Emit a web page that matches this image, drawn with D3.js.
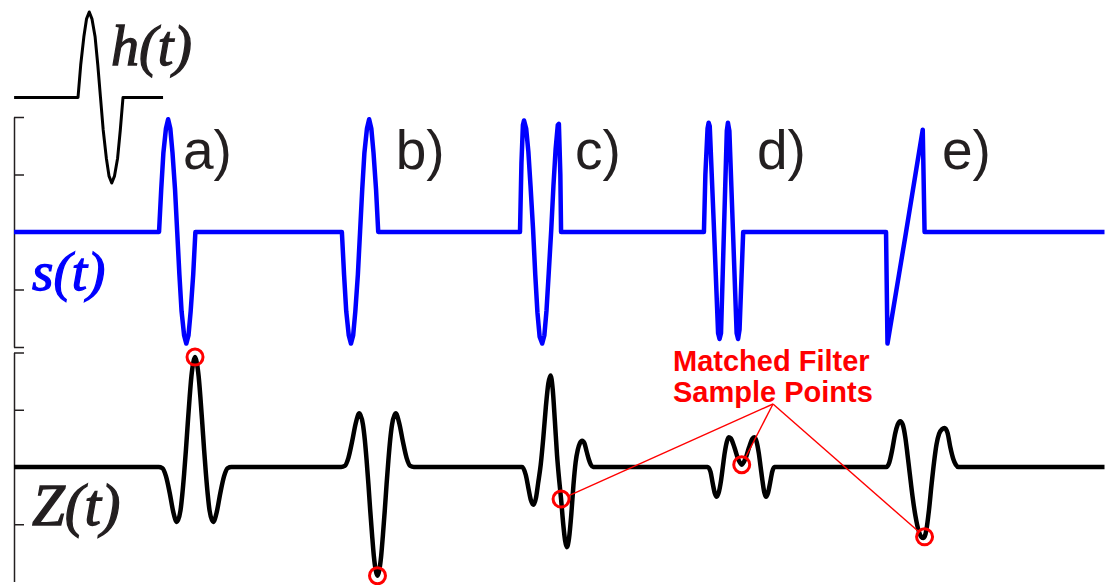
<!DOCTYPE html>
<html>
<head>
<meta charset="utf-8">
<script src="https://cdn.jsdelivr.net/npm/d3@7"></script>
<style>
  html, body { margin: 0; padding: 0; background: #fff; }
  svg { display: block; }
</style>
</head>
<body>
<svg id="chart" width="1105" height="585"></svg>
<script>
// ---------------------------------------------------------------
// Data: [time, normalised amplitude]
// ---------------------------------------------------------------

// matched-filter impulse response h(t), in units of one pulse length
const hPulse = [
  [-1.42, 0], [0, 0], [0.06, 0.38], [0.13, 0.71], [0.19, 0.92], [0.25, 1], [0.31, 0.92],
  [0.38, 0.71], [0.44, 0.38], [0.5, 0], [0.56, -0.38], [0.63, -0.71], [0.69, -0.92],
  [0.75, -1], [0.81, -0.92], [0.88, -0.71], [0.94, -0.38], [1, 0], [1.89, 0]
];

// received signal s(t): five pulse shapes a) .. e)
const sPulseA = [
  [3.99, 0], [4.05, 0.37], [4.11, 0.69], [4.18, 0.9], [4.24, 0.98], [4.3, 0.9], [4.36, 0.69],
  [4.43, 0.37], [4.49, 0], [4.55, -0.37], [4.61, -0.69], [4.68, -0.9], [4.74, -0.97],
  [4.8, -0.9], [4.86, -0.69], [4.93, -0.37], [4.99, 0]
];
const sPulseB = [
  [9.02, 0], [9.08, -0.37], [9.14, -0.69], [9.21, -0.9], [9.27, -0.97], [9.33, -0.9],
  [9.39, -0.69], [9.46, -0.37], [9.52, 0], [9.58, 0.37], [9.64, 0.69], [9.71, 0.9],
  [9.77, 0.98], [9.83, 0.9], [9.89, 0.69], [9.96, 0.37], [10.02, 0]
];
const sPulseC = [
  [13.92, 0], [13.96, 0.6], [14.0, 0.93], [14.03, 0.97], [14.09, 0.9], [14.15, 0.7],
  [14.21, 0.4], [14.28, 0.02], [14.34, -0.37], [14.4, -0.7], [14.46, -0.91], [14.53, -0.97],
  [14.59, -0.9], [14.65, -0.68], [14.71, -0.36], [14.78, 0.02], [14.84, 0.4], [14.9, 0.72],
  [14.96, 0.93], [14.99, 0.94], [15.03, 0.5], [15.05, 0]
];
const sPulseD = [
  [18.98, 0], [19.02, 0.5], [19.08, 0.9], [19.11, 0.95], [19.14, 0.92], [19.26, 0.0],
  [19.37, -0.88], [19.41, -0.93], [19.45, -0.88], [19.53, 0.0], [19.61, 0.88], [19.64, 0.95],
  [19.68, 0.88], [19.78, 0.0], [19.88, -0.88], [19.92, -0.93], [19.96, -0.85], [20.06, 0]
];
const sPulseE = [
  [23.99, 0], [24.03, -0.97], [24.52, -0.04], [25.0, 0.89], [25.05, 0]
];

// matched-filter output Z(t) for each pulse
const zPulseA = [
  [3.98, 0], [4.08, -0.01], [4.18, -0.08], [4.28, -0.22], [4.38, -0.39], [4.48, -0.48],
  [4.58, -0.38], [4.63, -0.24], [4.68, -0.06], [4.73, 0.15], [4.78, 0.38], [4.83, 0.6],
  [4.88, 0.79], [4.93, 0.91], [4.98, 0.96], [5.03, 0.91], [5.08, 0.79], [5.13, 0.6],
  [5.18, 0.38], [5.23, 0.15], [5.28, -0.06], [5.33, -0.24], [5.38, -0.38], [5.48, -0.48],
  [5.58, -0.39], [5.68, -0.22], [5.78, -0.08], [5.88, -0.01], [5.98, 0]
];
const zPulseB = [
  [9.0, 0], [9.1, 0.01], [9.2, 0.08], [9.3, 0.22], [9.4, 0.38], [9.5, 0.47], [9.6, 0.37],
  [9.65, 0.24], [9.7, 0.06], [9.75, -0.15], [9.8, -0.38], [9.85, -0.59], [9.9, -0.78],
  [9.95, -0.9], [10.0, -0.95], [10.05, -0.9], [10.1, -0.78], [10.15, -0.59], [10.2, -0.38],
  [10.25, -0.15], [10.3, 0.06], [10.35, 0.24], [10.4, 0.37], [10.5, 0.47], [10.6, 0.38],
  [10.7, 0.22], [10.8, 0.08], [10.9, 0.01], [11.0, 0]
];
const zPulseC = [
  [13.98, 0], [14.08, -0.07], [14.16, -0.2], [14.22, -0.29], [14.29, -0.33], [14.36, -0.27],
  [14.42, -0.14], [14.49, 0.02], [14.56, 0.25], [14.63, 0.52], [14.7, 0.73], [14.76, 0.8],
  [14.82, 0.68], [14.88, 0.4], [14.94, 0.1], [15.0, -0.12], [15.05, -0.28], [15.11, -0.5],
  [15.16, -0.64], [15.21, -0.7], [15.27, -0.62], [15.33, -0.42], [15.39, -0.16], [15.45, 0.04],
  [15.51, 0.15], [15.57, 0.21], [15.63, 0.23], [15.69, 0.21], [15.75, 0.14], [15.81, 0.07],
  [15.87, 0.02], [15.93, 0]
];
const zPulseD = [
  [19.08, 0], [19.16, -0.04], [19.22, -0.14], [19.28, -0.23], [19.33, -0.26], [19.39, -0.22],
  [19.45, -0.12], [19.5, 0.0], [19.55, 0.12], [19.61, 0.22], [19.66, 0.26], [19.72, 0.25],
  [19.82, 0.17], [19.92, 0.07], [20.02, 0.02], [20.12, 0.07], [20.22, 0.17], [20.32, 0.25],
  [20.37, 0.26], [20.43, 0.22], [20.49, 0.12], [20.54, 0.0], [20.59, -0.12], [20.64, -0.22],
  [20.69, -0.26], [20.74, -0.23], [20.8, -0.14], [20.86, -0.04], [20.92, 0]
];
const zPulseE = [
  [24.0, 0], [24.08, 0.04], [24.16, 0.15], [24.24, 0.29], [24.31, 0.37], [24.38, 0.4],
  [24.45, 0.37], [24.52, 0.26], [24.58, 0.11], [24.64, -0.05], [24.72, -0.26], [24.8, -0.43],
  [24.88, -0.55], [24.96, -0.61], [25.02, -0.62], [25.05, -0.61], [25.1, -0.55], [25.17, -0.38],
  [25.24, -0.16], [25.31, 0.04], [25.38, 0.2], [25.45, 0.29], [25.53, 0.33], [25.6, 0.34],
  [25.68, 0.3], [25.76, 0.17], [25.84, 0.07], [25.91, 0.02], [25.98, 0]
];

// instants at which the filter output is sampled, and the value there
const sampleT = [4.98, 10.0, 15.05, 20.02, 25.05];
const sampleZ = [0.96, -0.95, -0.28, 0.02, -0.61];
// samples that the callout points to
const calloutIdx = [2, 3, 4];

const pulseLabels = ["a)", "b)", "c)", "d)", "e)"];
const tStart = 0, tEnd = 30;
const ampTicksS = [-1, -0.5, 0, 0.5, 1];
const ampTicksZ = [-0.5, 0, 0.5, 1];

// ---------------------------------------------------------------
// Layout
// ---------------------------------------------------------------
const svg = d3.select("#chart");
const axisX = 14;
const labelAt = [4.65, 10.5, 15.43, 20.44, 25.53];   // label anchor, in time units
const labelBaseline = 169;

const x = d3.scaleLinear().domain([tStart, tEnd]).range([axisX, 1104.5]);
const yS = d3.scaleLinear().domain([-1, 1]).range([347, 117]);
const yZ = d3.scaleLinear().domain([-1, 1]).range([581.5, 352.5]);
const hx = d3.scaleLinear().domain([0, 1]).range([78, 123]);
const hy = d3.scaleLinear().domain([-1, 1]).range([183, 12]);

const withBaseline = (...pulses) =>
  [[tStart, 0]].concat(...pulses, [[tEnd, 0]]);

const sSeries = withBaseline(sPulseA, sPulseB, sPulseC, sPulseD, sPulseE);
const zSeries = withBaseline(zPulseA, zPulseB, zPulseC, zPulseD, zPulseE);

// ---------------------------------------------------------------
// Axes (left edge, ticks pointing inward, no numbers)
// ---------------------------------------------------------------
const axisColor = "#231f20";
svg.append("g")
  .attr("transform", `translate(${axisX},0)`)
  .call(d3.axisRight(yS).tickValues(ampTicksS).tickSize(10).tickSizeOuter(0).tickFormat(""))
  .call(g => g.selectAll("path,line").attr("stroke", axisColor).attr("stroke-width", 1.5));

svg.append("g")
  .attr("transform", `translate(${axisX},0)`)
  .call(d3.axisRight(yZ).tickValues(ampTicksZ).tickSize(10).tickSizeOuter(0).tickFormat(""))
  .call(g => g.selectAll("path,line").attr("stroke", axisColor).attr("stroke-width", 1.5));

// ---------------------------------------------------------------
// Traces
// ---------------------------------------------------------------
const sLine = d3.line().x(d => x(d[0])).y(d => yS(d[1])).curve(d3.curveLinear);
const zLine = d3.line().x(d => x(d[0])).y(d => yZ(d[1])).curve(d3.curveMonotoneX);
const hLine = d3.line().x(d => hx(d[0])).y(d => hy(d[1])).curve(d3.curveLinear);

svg.append("path").datum(sSeries)
  .attr("d", sLine).attr("fill", "none")
  .attr("stroke", "#0000ff").attr("stroke-width", 4.5)
  .attr("stroke-linejoin", "round").attr("stroke-linecap", "butt");

svg.append("path").datum(zSeries)
  .attr("d", zLine).attr("fill", "none")
  .attr("stroke", "#000").attr("stroke-width", 4.5)
  .attr("stroke-linejoin", "round");

svg.append("path").datum(hPulse)
  .attr("d", hLine).attr("fill", "none")
  .attr("stroke", "#000").attr("stroke-width", 3)
  .attr("stroke-linejoin", "round");

// ---------------------------------------------------------------
// Text labels (italic serif, slightly thickened with a thin outline)
// ---------------------------------------------------------------
const serifItalic = "'Liberation Serif', 'Times New Roman', serif";
const signalNames = [
  { text: "h(t)", x: 111, y: 65,  size: 56, color: "#231f20" },
  { text: "s(t)", x: 32,  y: 290, size: 55, color: "#0000ff" },
  { text: "Z(t)", x: 32,  y: 525, size: 59, color: "#231f20" }
];
svg.append("g").selectAll("text")
  .data(signalNames)
  .join("text")
  .attr("x", d => d.x).attr("y", d => d.y)
  .attr("font-family", serifItalic).attr("font-style", "italic")
  .attr("font-size", d => d.size)
  .attr("fill", d => d.color).attr("stroke", d => d.color).attr("stroke-width", 1.3)
  .text(d => d.text);

svg.append("g").selectAll("text")
  .data(pulseLabels)
  .join("text")
  .attr("x", (d, i) => x(labelAt[i]))
  .attr("y", labelBaseline)
  .attr("font-family", "'Liberation Sans', Arial, sans-serif")
  .attr("font-size", 55).attr("fill", "#231f20")
  .text(d => d);

// ---------------------------------------------------------------
// Sample points and callout
// ---------------------------------------------------------------
const red = "#ff0000";
const samples = sampleT.map((t, i) => ({ px: x(t), py: yZ(sampleZ[i]) }));
const r = 8;

const callout = { x: 673, y1: 371, y2: 402, anchorX: 773, anchorY: 404 };

svg.append("g").selectAll("line")
  .data(calloutIdx.map(i => samples[i]))
  .join("line")
  .attr("x1", callout.anchorX).attr("y1", callout.anchorY)
  .attr("x2", d => {
    const dx = d.px - callout.anchorX, dy = d.py - callout.anchorY;
    return d.px - r * dx / Math.hypot(dx, dy);
  })
  .attr("y2", d => {
    const dx = d.px - callout.anchorX, dy = d.py - callout.anchorY;
    return d.py - r * dy / Math.hypot(dx, dy);
  })
  .attr("stroke", red).attr("stroke-width", 1.4);

svg.append("g").selectAll("circle")
  .data(samples)
  .join("circle")
  .attr("cx", d => d.px).attr("cy", d => d.py).attr("r", r)
  .attr("fill", "none").attr("stroke", red).attr("stroke-width", 3);

const calloutText = svg.append("text")
  .attr("font-family", "'Liberation Sans', Arial, sans-serif")
  .attr("font-weight", "bold").attr("font-size", 29).attr("fill", red);
calloutText.append("tspan").attr("x", callout.x).attr("y", callout.y1).text("Matched Filter");
calloutText.append("tspan").attr("x", callout.x).attr("y", callout.y2).text("Sample Points");
</script>
</body>
</html>
